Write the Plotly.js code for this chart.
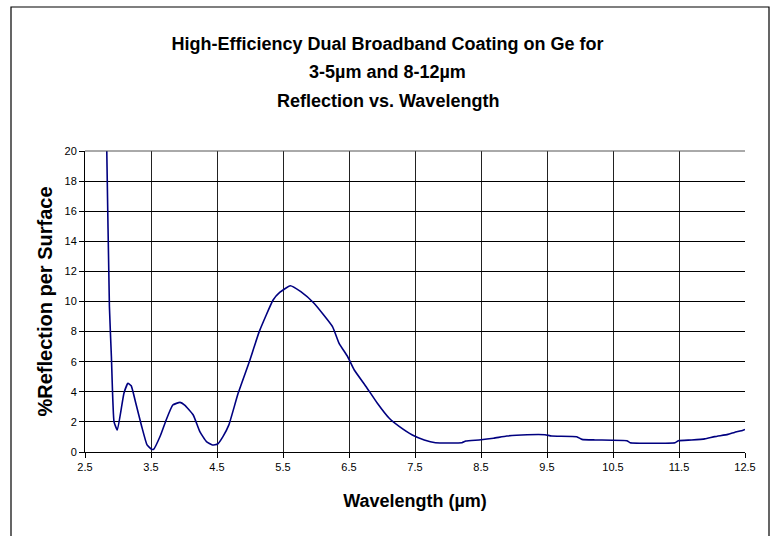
<!DOCTYPE html>
<html>
<head>
<meta charset="utf-8">
<script src="https://cdn.plot.ly/plotly-3.0.1.min.js"></script>
<style>
  html, body { margin: 0; padding: 0; background: #ffffff; }
  #chart { width: 775px; height: 536px; }
</style>
</head>
<body>
<div id="chart"></div>
<script>
// ---- data ----
const titleLines = [
  "High-Efficiency Dual Broadband Coating on Ge for",
  "3-5µm and 8-12µm",
  "Reflection vs. Wavelength"
];
const xTitle = "Wavelength (µm)";
const yTitle = "%Reflection per Surface";

const wavelength = [2.80, 2.83, 2.87, 2.90, 2.94, 2.99, 3.09, 3.15, 3.20, 3.27, 3.36, 3.44, 3.51, 3.54,
  3.64, 3.73, 3.83, 3.94, 4.01, 4.14, 4.24, 4.34, 4.43, 4.51, 4.59, 4.68, 4.82, 4.99, 5.14, 5.35, 5.45,
  5.61, 5.77, 5.97, 6.25, 6.35, 6.48, 6.58, 6.76, 6.93, 7.11, 7.26, 7.46, 7.64, 7.81, 8.21, 8.27, 8.47,
  8.69, 8.89, 9.20, 9.47, 9.57, 9.95, 10.03, 10.23, 10.71, 10.76, 11.44, 11.49, 11.69, 11.89, 12.04,
  12.24, 12.34, 12.47, 12.50];
const reflection = [27.0, 20.0, 9.65, 6.33, 2.0, 1.46, 3.9, 4.56, 4.4, 3.24, 1.68, 0.47, 0.18, 0.18,
  1.06, 2.13, 3.12, 3.3, 3.12, 2.46, 1.35, 0.69, 0.47, 0.53, 1.02, 1.8, 3.9, 6.0, 8.0, 10.1, 10.6,
  11.05, 10.65, 9.88, 8.33, 7.22, 6.33, 5.45, 4.34, 3.24, 2.24, 1.7, 1.13, 0.8, 0.62, 0.62, 0.73, 0.8,
  0.91, 1.06, 1.15, 1.15, 1.06, 1.02, 0.84, 0.8, 0.75, 0.62, 0.62, 0.75, 0.8, 0.87, 1.02,
  1.17, 1.3, 1.45, 1.5];

const xTickValues = [2.5, 3.5, 4.5, 5.5, 6.5, 7.5, 8.5, 9.5, 10.5, 11.5, 12.5];
const xTickLabels = ["2.5", "3.5", "4.5", "5.5", "6.5", "7.5", "8.5", "9.5", "10.5", "11.5", "12.5"];
const yTickValues = [0, 2, 4, 6, 8, 10, 12, 14, 16, 18, 20];

// ---- layout ----
const FONT = "Liberation Sans, Arial, sans-serif";
const W = 775, H = 536;
const M = { l: 85, r: 30, t: 151, b: 84 };
const plotH = H - M.t - M.b, plotW = W - M.l - M.r;
const pyToPaper = py => (H - M.b - py) / plotH;
const pxToPaper = px => (px - M.l) / plotW;
const titleFont = { family: FONT, size: 18, weight: "bold", color: "#000000" };

const trace = {
  x: wavelength,
  y: reflection,
  type: "scatter",
  mode: "lines",
  line: { color: "#000080", width: 1.6, shape: "spline", smoothing: 0.4 },
  hoverinfo: "x+y",
  showlegend: false
};

const layout = {
  width: W,
  height: H,
  margin: M,
  paper_bgcolor: "#ffffff",
  plot_bgcolor: "#ffffff",
  font: { family: FONT, color: "#000000", size: 11 },
  title: {
    text: titleLines[0],
    font: titleFont,
    x: 0.5, xref: "container",
    y: 1 - 44 / H, yref: "container", yanchor: "middle"
  },
  annotations: [
    { text: titleLines[1], xref: "paper", yref: "paper", x: pxToPaper(387.5), y: pyToPaper(72),
      xanchor: "center", yanchor: "middle", showarrow: false, font: titleFont },
    { text: titleLines[2], xref: "paper", yref: "paper", x: pxToPaper(387.5), y: pyToPaper(101),
      xanchor: "center", yanchor: "middle", showarrow: false, font: titleFont }
  ],
  xaxis: {
    range: [2.5, 12.5],
    tickmode: "array",
    tickvals: xTickValues,
    ticktext: xTickLabels,
    ticks: "outside",
    ticklen: 5,
    tickwidth: 1,
    tickcolor: "#000000",
    showline: true,
    linecolor: "#000000",
    linewidth: 1,
    showgrid: true,
    gridcolor: "#222222",
    gridwidth: 1,
    zeroline: false,
    tickfont: { family: FONT, size: 11, color: "#000000" },
    title: { text: xTitle, standoff: 22, font: { family: FONT, size: 18, weight: "bold", color: "#000000" } },
    fixedrange: true
  },
  yaxis: {
    range: [0, 20],
    tickmode: "array",
    tickvals: yTickValues,
    ticks: "outside",
    ticklen: 5,
    tickwidth: 1,
    tickcolor: "#000000",
    showline: true,
    linecolor: "#000000",
    linewidth: 1,
    showgrid: true,
    gridcolor: "#000000",
    gridwidth: 1,
    zeroline: false,
    tickfont: { family: FONT, size: 11, color: "#000000" },
    title: { text: yTitle, standoff: 6, font: { family: FONT, size: 20, weight: "bold", color: "#000000" } },
    fixedrange: true
  },
  shapes: [
    { type: "line", xref: "paper", yref: "paper", x0: 0, x1: 1, y0: 1, y1: 1,
      line: { color: "#555555", width: 1 } },
    { type: "rect", xref: "paper", yref: "paper",
      x0: pxToPaper(11), x1: pxToPaper(769), y0: pyToPaper(7), y1: pyToPaper(545),
      line: { color: "#000000", width: 1.2 }, fillcolor: "rgba(0,0,0,0)" }
  ]
};

Plotly.newPlot("chart", [trace], layout, { displayModeBar: false, staticPlot: true });
</script>
</body>
</html>
